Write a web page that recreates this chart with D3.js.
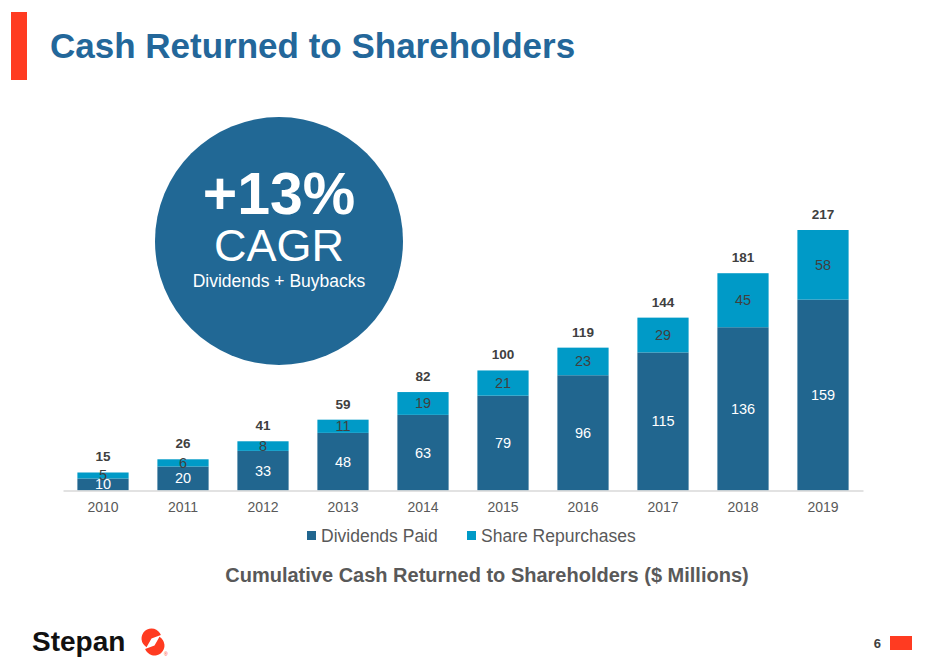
<!DOCTYPE html>
<html>
<head>
  <title>Cash Returned to Shareholders</title>
  <script src="https://d3js.org/d3.v7.min.js"></script>
  <style>
    body { margin: 0; background: #fff; }
    text { font-family: "Liberation Sans", Arial, sans-serif; }
  </style>
</head>
<body>
  <svg id="chart"></svg>
  <script>
    // chart data
    const years = ["2010", "2011", "2012", "2013", "2014", "2015", "2016", "2017", "2018", "2019"];
    const dividends = [10, 20, 33, 48, 63, 79, 96, 115, 136, 159];
    const repurchases = [5, 6, 8, 11, 19, 21, 23, 29, 45, 58];
    const totals = [15, 26, 41, 59, 82, 100, 119, 144, 181, 217];
    const seriesNames = ["Dividends Paid", "Share Repurchases"];

    const W = 931, H = 666;
    const darkBlue = "#21668f", lightBlue = "#009ac7", red = "#ff3b21";

    const svg = d3.select("#chart").attr("width", W).attr("height", H);

    // header
    svg.append("rect").attr("x", 11).attr("y", 12).attr("width", 16).attr("height", 68).attr("fill", red);
    svg.append("text").attr("x", 50).attr("y", 58)
      .attr("font-size", 35).attr("font-weight", "bold").attr("fill", "#23679a")
      .text("Cash Returned to Shareholders");

    // scales
    const x = d3.scaleBand().domain(years).range([63, 863]).paddingInner(0.36).paddingOuter(0.18);
    const y = d3.scaleLinear().domain([0, 217]).range([490.5, 230]);

    const rows = years.map((yr, i) => ({year: yr, div: dividends[i], rep: repurchases[i], total: totals[i]}));

    // bars
    const g = svg.append("g");
    g.selectAll(".div").data(rows).enter().append("rect")
      .attr("x", d => x(d.year)).attr("width", x.bandwidth())
      .attr("y", d => y(d.div)).attr("height", d => y(0) - y(d.div))
      .attr("fill", darkBlue);
    g.selectAll(".rep").data(rows).enter().append("rect")
      .attr("x", d => x(d.year)).attr("width", x.bandwidth())
      .attr("y", d => y(d.div + d.rep)).attr("height", d => y(d.div) - y(d.div + d.rep))
      .attr("fill", lightBlue);

    // segment labels
    g.selectAll(".divl").data(rows).enter().append("text")
      .attr("x", d => x(d.year) + x.bandwidth() / 2)
      .attr("y", d => (y(0) + y(d.div)) / 2 + 5)
      .attr("text-anchor", "middle").attr("font-size", 14.5).attr("fill", "#fff")
      .text(d => d.div);
    g.selectAll(".repl").data(rows).enter().append("text")
      .attr("x", d => x(d.year) + x.bandwidth() / 2)
      .attr("y", d => (y(d.div) + y(d.div + d.rep)) / 2 + 5)
      .attr("text-anchor", "middle").attr("font-size", 14.5).attr("fill", "#404040")
      .text(d => d.rep);
    g.selectAll(".tot").data(rows).enter().append("text")
      .attr("x", d => x(d.year) + x.bandwidth() / 2)
      .attr("y", d => y(d.total) - 11)
      .attr("text-anchor", "middle").attr("font-size", 13.5).attr("font-weight", "bold").attr("fill", "#404040")
      .text(d => d.total);

    // x axis
    const axis = svg.append("g").attr("transform", "translate(0," + y(0) + ")")
      .call(d3.axisBottom(x).tickSize(0).tickPadding(12));
    axis.select(".domain").attr("stroke", "#d9d9d9").attr("stroke-width", 1.5);
    axis.selectAll("text").attr("font-size", 14).attr("fill", "#595959")
      .attr("font-family", "Liberation Sans, Arial, sans-serif");

    // legend
    const legendX = [307, 467];
    const lg = svg.append("g");
    seriesNames.forEach((name, i) => {
      lg.append("rect").attr("x", legendX[i]).attr("y", 531).attr("width", 9).attr("height", 9)
        .attr("fill", i === 0 ? darkBlue : lightBlue);
      lg.append("text").attr("x", legendX[i] + 14).attr("y", 542)
        .attr("font-size", 17.5).attr("fill", "#595959").text(name);
    });

    // axis title
    svg.append("text").attr("x", 487).attr("y", 582).attr("text-anchor", "middle")
      .attr("font-size", 20).attr("font-weight", "bold").attr("fill", "#595959")
      .text("Cumulative Cash Returned to Shareholders ($ Millions)");

    // CAGR bubble
    svg.append("circle").attr("cx", 279).attr("cy", 241).attr("r", 124).attr("fill", "#216895");
    svg.append("text").attr("x", 279).attr("y", 214).attr("text-anchor", "middle")
      .attr("font-size", 59).attr("font-weight", "bold").attr("fill", "#fff").text("+13%");
    svg.append("text").attr("x", 279).attr("y", 261).attr("text-anchor", "middle")
      .attr("font-size", 45).attr("fill", "#fff").text("CAGR");
    svg.append("text").attr("x", 279).attr("y", 287).attr("text-anchor", "middle")
      .attr("font-size", 17.5).attr("fill", "#fff").text("Dividends + Buybacks");

    // footer
    svg.append("text").attr("x", 32).attr("y", 651)
      .attr("font-size", 28).attr("font-weight", "bold").attr("fill", "#111").text("Stepan");
    const logo = svg.append("g").attr("transform", "translate(153,642)");
    const deg = Math.PI / 180;
    logo.append("path").attr("transform", "translate(-1.5,-3.5)")
      .attr("d", d3.arc()({innerRadius: 0, outerRadius: 10, startAngle: -150 * deg, endAngle: 70 * deg}))
      .attr("fill", red);
    logo.append("path").attr("transform", "translate(1.5,3.5)")
      .attr("d", d3.arc()({innerRadius: 0, outerRadius: 10, startAngle: 30 * deg, endAngle: 250 * deg}))
      .attr("fill", red);
    logo.append("text").attr("x", 11).attr("y", 14).attr("font-size", 5).attr("fill", red).text("®");

    svg.append("text").attr("x", 881).attr("y", 648).attr("text-anchor", "end")
      .attr("font-size", 13).attr("font-weight", "bold").attr("fill", "#404040").text("6");
    svg.append("rect").attr("x", 890).attr("y", 636).attr("width", 22).attr("height", 14).attr("fill", red);
  </script>
</body>
</html>
